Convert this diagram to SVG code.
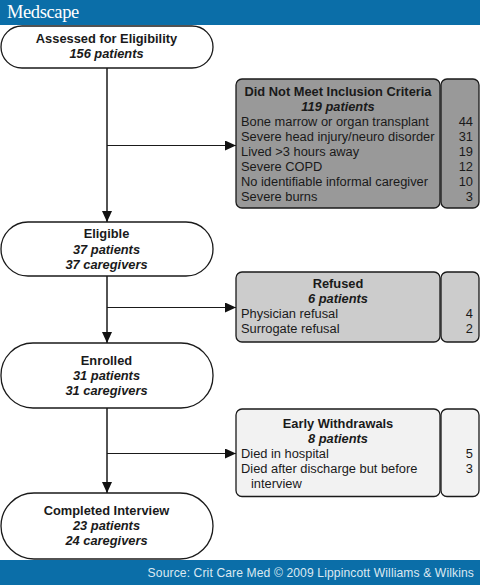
<svg xmlns="http://www.w3.org/2000/svg" width="480" height="585" viewBox="0 0 480 585">
<style>
text{font-family:"Liberation Sans",Arial,sans-serif;font-size:12.85px;fill:#1a1a1a}
.b{font-weight:bold;text-anchor:middle}
.i{font-weight:bold;font-style:italic;text-anchor:middle}
.n{text-anchor:end}
.pill{fill:#fff;stroke:#1a1a1a;stroke-width:1.3}
.box{stroke:#1a1a1a;stroke-width:1.3}
.band{fill:#0b6ea8}
.line{fill:none;stroke:#1a1a1a;stroke-width:1.5}
.thin{fill:none;stroke:#1a1a1a;stroke-width:1.1}
</style>
<defs>
<marker id="arrow" markerUnits="userSpaceOnUse" markerWidth="11" markerHeight="10" refX="11" refY="5" orient="auto"><path d="M0 0L11 5L0 10Z" fill="#111"/></marker>
</defs>
<rect id="header" class="band" x="0" y="0" width="480" height="25"/>
<text x="7" y="18" style="font-family:'Liberation Serif',serif;font-size:18.5px;fill:#fff;letter-spacing:-.4px">Medscape</text>
<rect id="footer" class="band" x="0" y="560" width="480" height="25"/>
<text x="474" y="577" class="n" style="font-size:12.1px;fill:#dbe9f2;letter-spacing:.12px">Source: Crit Care Med © 2009 Lippincott Williams &amp; Wilkins</text>
<g id="connectors">
<path class="line" d="M107 68V222" marker-end="url(#arrow)"/>
<path class="thin" d="M107 145.5H236" marker-end="url(#arrow)"/>
<path class="line" d="M107 276V343" marker-end="url(#arrow)"/>
<path class="thin" d="M107 307.5H236" marker-end="url(#arrow)"/>
<path class="line" d="M107 408V493" marker-end="url(#arrow)"/>
<path class="thin" d="M107 453.5H236" marker-end="url(#arrow)"/>
</g>
<g id="assessed">
<rect class="pill" x="1" y="26" width="212" height="42" rx="21"/>
<text class="b" x="106.500" y="43">Assessed for Eligibility</text>
<text class="i" x="106.500" y="58">156 patients</text>
</g>
<g id="eligible">
<rect class="pill" x="1" y="222" width="212" height="54" rx="27"/>
<text class="b" x="106.500" y="238">Eligible</text>
<text class="i" x="106.500" y="254">37 patients</text>
<text class="i" x="106.500" y="269">37 caregivers</text>
</g>
<g id="enrolled">
<rect class="pill" x="1" y="343" width="212" height="65" rx="32"/>
<text class="b" x="106.500" y="365">Enrolled</text>
<text class="i" x="106.500" y="380">31 patients</text>
<text class="i" x="106.500" y="395">31 caregivers</text>
</g>
<g id="completed">
<rect class="pill" x="1" y="493" width="212" height="66" rx="33"/>
<text class="b" x="106.500" y="515">Completed Interview</text>
<text class="i" x="106.500" y="530">23 patients</text>
<text class="i" x="106.500" y="545">24 caregivers</text>
</g>
<g id="not-met">
<rect class="box" x="236" y="79" width="204" height="129" rx="6" fill="#999"/>
<rect class="box" x="441" y="79" width="38" height="129" rx="6" fill="#999"/>
<text class="b" x="338" y="96">Did Not Meet Inclusion Criteria</text>
<text class="i" x="338" y="111">119 patients</text>
<text x="241" y="126">Bone marrow or organ transplant</text>
<text x="241" y="140.500">Severe head injury/neuro disorder</text>
<text x="241" y="155.500">Lived &gt;3 hours away</text>
<text x="241" y="170.500">Severe COPD</text>
<text x="241" y="185.500">No identifiable informal caregiver</text>
<text x="241" y="200.500">Severe burns</text>
<text class="n" x="473" y="126">44</text>
<text class="n" x="473" y="140.500">31</text>
<text class="n" x="473" y="155.500">19</text>
<text class="n" x="473" y="170.500">12</text>
<text class="n" x="473" y="185.500">10</text>
<text class="n" x="473" y="200.500">3</text>
</g>
<g id="refused">
<rect class="box" x="236" y="272" width="204" height="70" rx="6" fill="#ccc"/>
<rect class="box" x="441" y="272" width="38" height="70" rx="6" fill="#ccc"/>
<text class="b" x="338" y="288">Refused</text>
<text class="i" x="338" y="303">6 patients</text>
<text x="241" y="317.500">Physician refusal</text>
<text x="241" y="332.500">Surrogate refusal</text>
<text class="n" x="473" y="317.500">4</text>
<text class="n" x="473" y="332.500">2</text>
</g>
<g id="withdrawals">
<rect class="box" x="236" y="409" width="204" height="87.500" rx="6" fill="#f2f2f2"/>
<rect class="box" x="441" y="409" width="38" height="87.500" rx="6" fill="#f2f2f2"/>
<text class="b" x="338" y="427.500">Early Withdrawals</text>
<text class="i" x="338" y="442.500">8 patients</text>
<text x="241" y="457.500">Died in hospital</text>
<text x="241" y="472.500">Died after discharge but before</text>
<text x="251" y="487.500">interview</text>
<text class="n" x="473" y="457.500">5</text>
<text class="n" x="473" y="472.500">3</text>
</g>
</svg>
